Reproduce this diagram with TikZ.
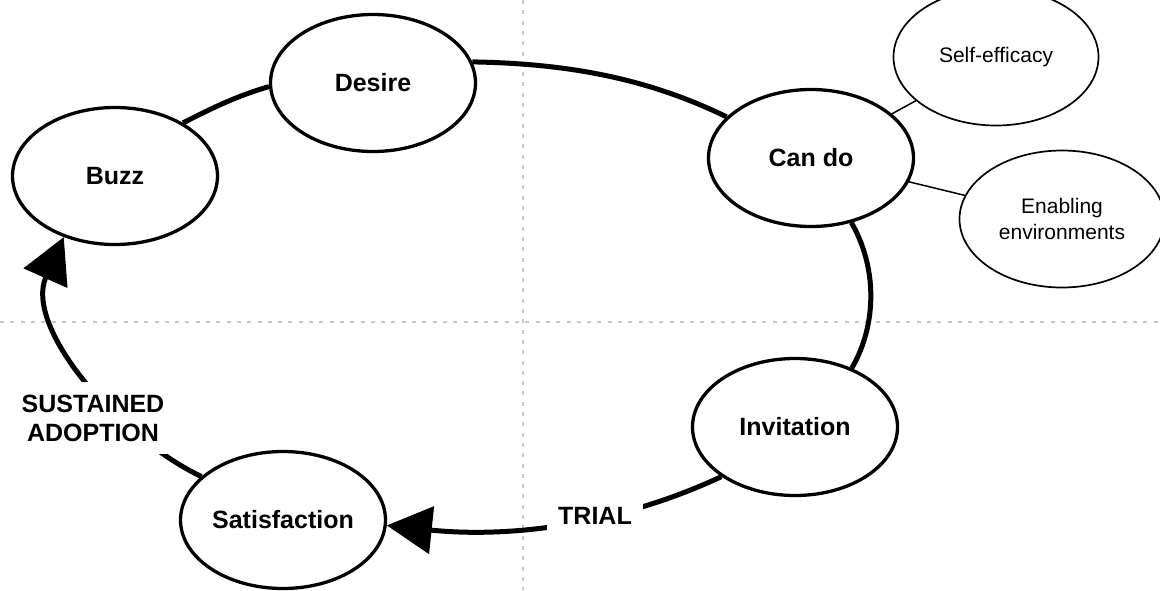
\documentclass[tikz,border=0pt]{standalone}
\usepackage{fontspec}
\setmainfont{Liberation Sans}
\usetikzlibrary{shapes.geometric,arrows.meta}
\begin{document}
\begin{tikzpicture}[x=1pt,y=1pt,
  bignode/.style={ellipse,draw,line width=3.3pt,fill=white,minimum width=205pt,minimum height=137pt,inner sep=0pt,font=\fontsize{25}{30}\selectfont\bfseries},
  smallnode/.style={ellipse,draw,line width=1.7pt,fill=white,minimum width=205pt,minimum height=137pt,inner sep=0pt,align=center,font=\fontsize{21}{26}\selectfont},
  flowline/.style={line width=5pt,looseness=0.9},
  headtip/.style={-{Triangle[length=45pt,width=47pt]}},
  labeltext/.style={fill=white,align=center,font=\fontsize{25}{29}\selectfont\bfseries},
  guide/.style={draw=black!22,line width=2pt,dash pattern=on 4pt off 6.3pt},
  spoke/.style={line width=1.5pt}]
\useasboundingbox (0,0) rectangle (1160,-590);
\coordinate (vtop) at (523,0);
\coordinate (vbot) at (523,-590);
\coordinate (hl) at (0,-322);
\coordinate (hr) at (1160,-322);
\draw[guide] (vtop) -- (vbot);
\draw[guide] (hl) -- (hr);

\node[bignode] (desire) at (373,-83) {Desire};
\node[bignode] (buzz) at (115,-176) {Buzz};
\node[bignode] (cando) at (811,-158) {Can do};
\node[bignode] (invitation) at (795,-427) {Invitation};
\node[bignode] (satisfaction) at (283,-520) {Satisfaction};
\node[smallnode] (selfeff) at (996,-57) {Self-efficacy};
\node[smallnode] (enabling) at (1062,-219) {Enabling\\environments};

\draw[spoke] (cando) -- (selfeff);
\draw[spoke] (cando) -- (enabling);

\draw[flowline] (buzz.38) to[out=27,in=196] (desire.182);
\draw[flowline] (desire.12) to[out=-1,in=154] (cando.154);
\draw[flowline] (cando.302) to[out=-60,in=60] (invitation.46);
\draw[flowline,headtip] (invitation.214) to[out=205,in=-6] (satisfaction.357);
\draw[flowline,headtip] (satisfaction.152) to[out=154,in=246] (buzz.230);

\node[labeltext,inner xsep=11pt,inner ysep=6pt] (trial) at (595,-516) {TRIAL};
\node[labeltext,inner xsep=6pt,inner ysep=13pt] (sustained) at (93,-418) {SUSTAINED\\ADOPTION};
\end{tikzpicture}
\end{document}
